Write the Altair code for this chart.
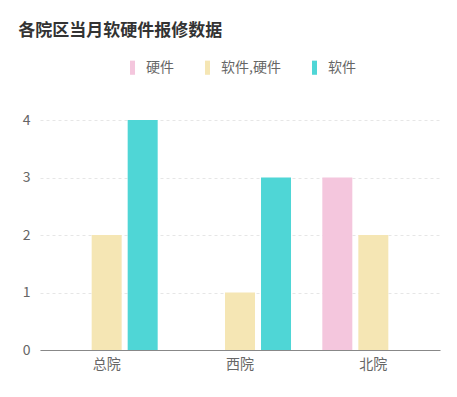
import altair as alt
import pandas as pd

hospitals = ["总院", "西院", "北院"]
series = ["硬件", "软件,硬件", "软件"]
colors = ["#F4C6DD", "#F5E6B4", "#4FD6D6"]

# values per series (None = no bar)
hw = [None, None, 3]
swhw = [2, 1, 2]
sw = [4, 3, None]
y_ticks = [0, 1, 2, 3, 4]

rows = []
for i, h in enumerate(hospitals):
    for s, vals in zip(series, [hw, swhw, sw]):
        if vals[i] is not None:
            rows.append({"院区": h, "类型": s, "数量": vals[i]})
df = pd.DataFrame(rows)

FONT = "Noto Sans CJK SC"

chart = alt.Chart(df).mark_bar(size=30).encode(
    x=alt.X("院区:N", sort=hospitals,
            scale=alt.Scale(domain=hospitals, paddingInner=0.19, paddingOuter=0.095),
            axis=alt.Axis(title=None, labelAngle=0, ticks=False, domainColor="#888",
                          labelColor="#666", labelFontSize=14, labelPadding=7, labelFont=FONT)),
    xOffset=alt.XOffset("类型:N", sort=series,
                        scale=alt.Scale(domain=series, paddingInner=0.167, paddingOuter=0.083)),
    y=alt.Y("数量:Q", scale=alt.Scale(domain=[0, 4], nice=False),
            axis=alt.Axis(title=None, values=y_ticks, domain=False, ticks=False,
                          labelOverlap=False,
                          labelColor="#666", labelFontSize=14, labelPadding=10, labelFont=FONT,
                          gridColor="#e6e6e6", gridDash=[3, 3], format="d")),
    color=alt.Color("类型:N", sort=series,
                    scale=alt.Scale(domain=series, range=colors),
                    legend=alt.Legend(title=None, orient="none", legendX=85, legendY=-60,
                                      direction="horizontal",
                                      symbolType="M-0.35,-1L0.35,-1L0.35,1L-0.35,1Z",
                                      symbolSize=200, symbolStrokeWidth=0,
                                      labelFontSize=14, labelColor="#666", labelFont=FONT,
                                      columnPadding=26, labelOffset=6)),
).properties(
    width=400, height=230,
    title=alt.TitleParams("各院区当月软硬件报修数据", anchor="start", fontSize=17, fontWeight="bold",
                          color="#333", font=FONT, dx=-4, offset=20),
    padding={"left": 32, "top": 112, "right": 9, "bottom": 30},
    autosize=alt.AutoSizeParams(type="none"),
).configure_view(stroke=None)

chart.save("out.html", embed_options={"renderer": "svg", "actions": False})
